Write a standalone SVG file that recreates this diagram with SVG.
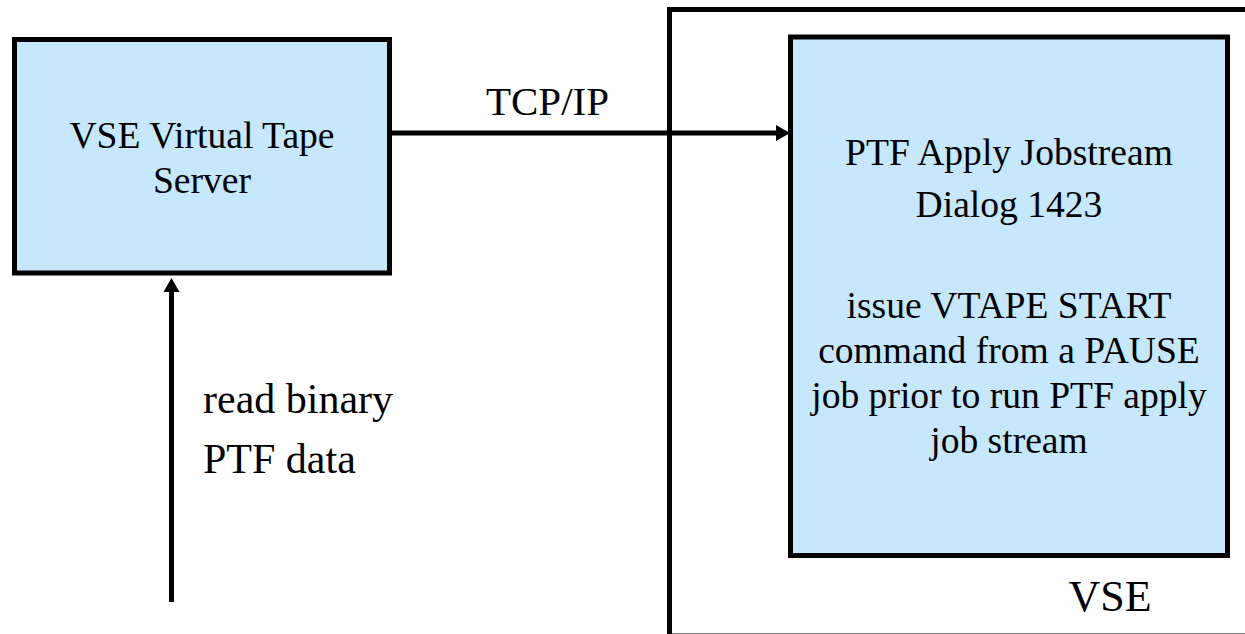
<svg xmlns="http://www.w3.org/2000/svg" width="1245" height="634" viewBox="0 0 1245 634">
  <style>
    .box { fill: #C6E7FC; stroke: #000; stroke-width: 5; }
    .frame { fill: none; stroke: #000; stroke-width: 5; }
    .conn { fill: none; stroke: #000; stroke-width: 5; }
    .t { font-family: 'Liberation Serif', 'Times New Roman', serif; fill: #000; }
    .mid { text-anchor: middle; }
  </style>
  <defs>
    <marker id="arrow" markerUnits="userSpaceOnUse" markerWidth="15" markerHeight="16" refX="0" refY="8" orient="auto" overflow="visible">
      <path d="M0,0 L14,8 L0,16 Z" fill="#000"/>
    </marker>
  </defs>
  <rect width="1245" height="634" fill="#fff"/>

  <g id="vse-frame">
    <rect class="frame" x="669.5" y="9.5" width="600" height="626.5"/>
    <text class="t mid" x="1110" y="611" font-size="44">VSE</text>
  </g>

  <g id="vtape-server">
    <rect class="box" x="14.5" y="39.5" width="375" height="233.5"/>
    <text class="t mid" x="202" y="148" font-size="37.6">VSE Virtual Tape</text>
    <text class="t mid" x="202" y="193" font-size="37.6">Server</text>
  </g>

  <g id="ptf-apply">
    <rect class="box" x="790.5" y="37" width="437" height="518.5"/>
    <text class="t mid" x="1009" y="165" font-size="37.6">PTF Apply Jobstream</text>
    <text class="t mid" x="1009" y="217" font-size="37.6">Dialog 1423</text>
    <text class="t mid" x="1009" y="318" font-size="37.6">issue VTAPE START</text>
    <text class="t mid" x="1009" y="363" font-size="37.6">command from a PAUSE</text>
    <text class="t mid" x="1009" y="408" font-size="37.6">job prior to run PTF apply</text>
    <text class="t mid" x="1009" y="453" font-size="37.6">job stream</text>
  </g>

  <g id="connectors">
    <line class="conn" x1="392" y1="133" x2="776" y2="133" marker-end="url(#arrow)"/>
    <text class="t mid" x="547.5" y="115" font-size="41">TCP/IP</text>
    <line class="conn" x1="171.5" y1="602" x2="171.5" y2="292" marker-end="url(#arrow)"/>
    <text class="t" x="203" y="413" font-size="42">read binary</text>
    <text class="t" x="203" y="473" font-size="42">PTF data</text>
  </g>
</svg>
